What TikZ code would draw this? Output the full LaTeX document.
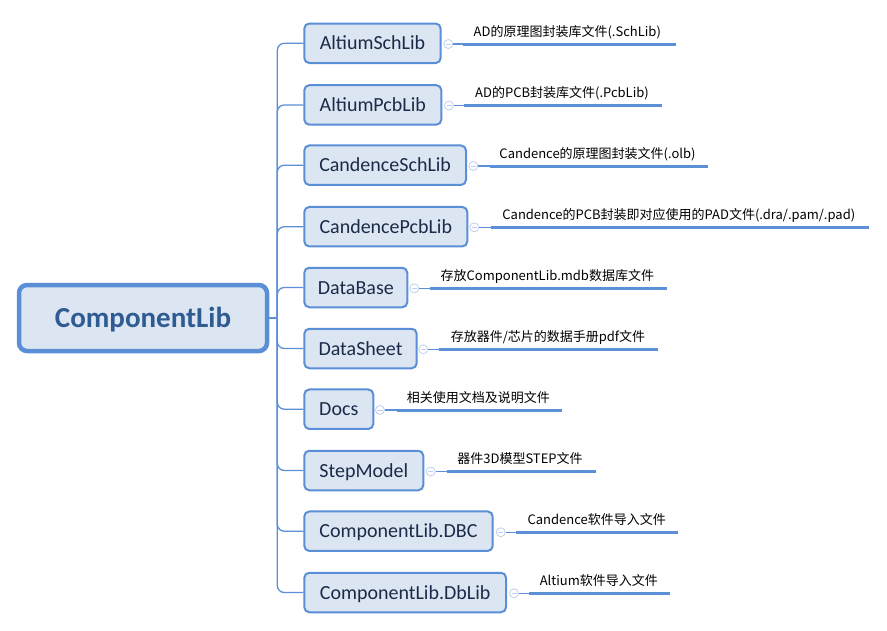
\documentclass[tikz,border=0pt]{standalone}
\usepackage{fontspec}
\setmainfont{Carlito}
\newfontfamily\cjkfont{Noto Sans CJK SC}
\definecolor{bordc}{HTML}{5A8ED6}
\definecolor{fillc}{HTML}{DCE6F2}
\definecolor{rootc}{HTML}{2F5B93}
\definecolor{txtc}{HTML}{1B2A48}
\definecolor{circc}{HTML}{BFCFEF}
\definecolor{linec}{HTML}{5B8FD6}
\begin{document}
\begin{tikzpicture}[x=1pt,y=-1pt,
  rootbox/.style={draw=bordc, fill=fillc, line width=4.5pt, rounded corners=8pt,
    minimum width=248pt, minimum height=66pt, inner sep=0pt, text=rootc,
    font=\fontsize{29}{29}\selectfont\bfseries, text height=18.7pt, text depth=0pt},
  childbox/.style={draw=bordc, fill=fillc, line width=2pt, rounded corners=5pt,
    minimum height=39.5pt, inner sep=0pt, anchor=west, text=txtc,
    font=\fontsize{20}{20}\selectfont, text height=13.2pt, text depth=0pt},
  circ/.style={circle, draw=circc, fill=white, line width=0.8pt, minimum size=9pt, inner sep=0pt,
    path picture={\draw[circc, line width=0.8pt] ([xshift=-2.5pt]path picture bounding box.center) -- ([xshift=2.5pt]path picture bounding box.center);}},
  conn/.style={draw=linec, line width=1.3pt},
  branch/.style={draw=linec, line width=1.3pt, rounded corners=7pt},
  uline/.style={draw=linec, line width=3pt},
  lbl/.style={anchor=base, inner sep=0pt, font=\cjkfont\fontsize{13}{13}\selectfont, text=black}
]
\useasboundingbox (0,0) rectangle (887,630);

% root
\node[rootbox] (root) at (143,318) {ComponentLib};
\coordinate (trunk) at (277.3,318);
\draw[conn] (root.east) -- (trunk);

% children
\node[childbox, minimum width=136.4pt] (b1) at (303.3,43.3) {AltiumSchLib};
\node[childbox, minimum width=137pt]   (b2) at (303.3,104.9) {AltiumPcbLib};
\node[childbox, minimum width=161.7pt] (b3) at (303.3,165.2) {CandenceSchLib};
\node[childbox, minimum width=163pt]   (b4) at (303.3,226.7) {CandencePcbLib};
\node[childbox, minimum width=103pt]   (b5) at (303.3,287.5) {DataBase};
\node[childbox, minimum width=112.4pt] (b6) at (303.3,348.5) {DataSheet};
\node[childbox, minimum width=69pt]    (b7) at (303.3,409.2) {Docs};
\node[childbox, minimum width=119pt]   (b8) at (303.3,470.5) {StepModel};
\node[childbox, minimum width=188.4pt] (b9) at (303.3,531.2) {ComponentLib.DBC};
\node[childbox, minimum width=201.7pt] (b10) at (303.3,592.5) {ComponentLib.DbLib};

\foreach \i in {1,...,10} {\draw[branch] (trunk) |- (b\i.west);}

% collapse circles
\node[circ] (c1) at (448.3,44) {};
\node[circ] (c2) at (449,105.5) {};
\node[circ] (c3) at (473.3,166) {};
\node[circ] (c4) at (474.3,227.3) {};
\node[circ] (c5) at (414.3,288.3) {};
\node[circ] (c6) at (423.3,349.3) {};
\node[circ] (c7) at (380,410) {};
\node[circ] (c8) at (430.7,471.5) {};
\node[circ] (c9) at (500.7,532.2) {};
\node[circ] (c10) at (514,593.3) {};

% underline coordinates
\coordinate (u1a) at (463.3,44);    \coordinate (u1b) at (675.7,44);
\coordinate (u2a) at (464.3,105.5); \coordinate (u2b) at (662.3,105.5);
\coordinate (u3a) at (490,166);     \coordinate (u3b) at (708.3,166);
\coordinate (u4a) at (490.7,227.3); \coordinate (u4b) at (869,227.3);
\coordinate (u5a) at (430,288.3);   \coordinate (u5b) at (666.7,288.3);
\coordinate (u6a) at (439.3,349.3); \coordinate (u6b) at (658.3,349.3);
\coordinate (u7a) at (396.7,410);   \coordinate (u7b) at (562.3,410);
\coordinate (u8a) at (446.7,471.5); \coordinate (u8b) at (595.7,471.5);
\coordinate (u9a) at (516,532.2);   \coordinate (u9b) at (678.3,532.2);
\coordinate (u10a) at (529.3,593.3); \coordinate (u10b) at (670,593.3);

\foreach \i in {1,...,10} {
  \draw[conn] (c\i.east) -- (u\i a);
  \draw[uline] (u\i a) -- (u\i b);
}

% labels
\node[lbl] (l1) at (567.3,36.3) {AD的原理图封装库文件(.SchLib)};
\node[lbl] (l2) at (562,97.8) {AD的PCB封装库文件(.PcbLib)};
\node[lbl] (l3) at (597.5,158.3) {Candence的原理图封装文件(.olb)};
\node[lbl] (l4) at (678.8,219.6) {Candence的PCB封装即对应使用的PAD文件(.dra/.pam/.pad)};
\node[lbl] (l5) at (547.3,280.6) {存放ComponentLib.mdb数据库文件};
\node[lbl] (l6) at (548,341.6) {存放器件/芯片的数据手册pdf文件};
\node[lbl] (l7) at (478.3,402.3) {相关使用文档及说明文件};
\node[lbl] (l8) at (520,463.8) {器件3D模型STEP文件};
\node[lbl] (l9) at (596.7,524.5) {Candence软件导入文件};
\node[lbl] (l10) at (598.8,585.6) {Altium软件导入文件};
\end{tikzpicture}
\end{document}
